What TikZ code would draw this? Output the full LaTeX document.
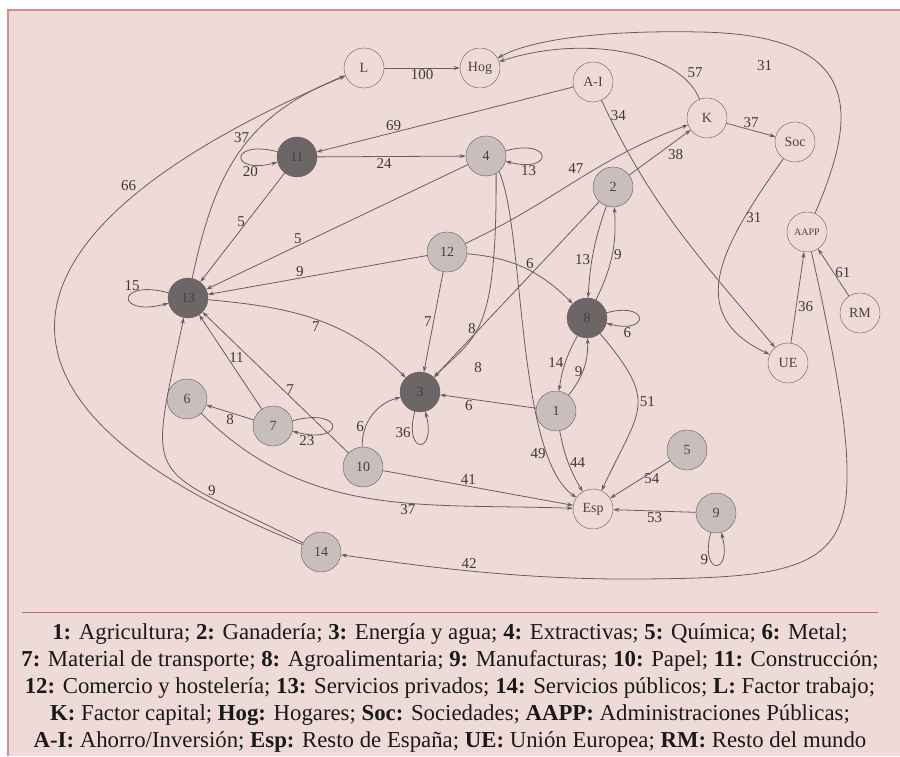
\documentclass[tikz,border=0pt]{standalone}
\usepackage{fontspec}
\setmainfont{Liberation Serif}
\newfontfamily\legfont{Liberation Serif}
\usepackage{tikz}
\usetikzlibrary{arrows.meta}
\definecolor{bgpink}{RGB}{238,219,215}
\definecolor{framered}{RGB}{214,140,140}
\definecolor{rulered}{RGB}{196,100,100}
\definecolor{ink}{RGB}{104,94,94}
\definecolor{sectfill}{RGB}{200,190,190}
\definecolor{keyfill}{RGB}{108,102,102}
\tikzset{>={Stealth[length=6pt,width=4pt]}}
\tikzset{
  acct/.style={circle, draw=ink, minimum size=40pt, inner sep=0pt, text=ink!70!black,
    font=\fontsize{14}{14}\selectfont},
  sect/.style={acct, fill=sectfill},
  keysect/.style={acct, fill=keyfill, text=black!75},
  flow/.style={->, draw=ink, line width=0.8pt},
  num/.style={font=\fontsize{15}{15}\selectfont, text=ink!60!black, inner sep=1.5pt},
  legend/.style={font=\legfont\fontsize{22.8}{22.8}\selectfont, text=black!90}
}

\begin{document}
\begin{tikzpicture}[x=1pt, y=1pt]

		\useasboundingbox (0,0) rectangle (900,756);
		\fill[bgpink] (8,0) rectangle (900,746);
		\draw[framered, line width=1.2pt] (8,0) -- (8,746) -- (900,746);

		% cuentas
		\node[acct] (L) at (364,688) {L};
		\node[acct] (Hog) at (480,688) {Hog};
		\node[acct] (AI) at (593,674) {A-I};
		\node[acct] (K) at (707,638) {K};
		\node[acct] (Soc) at (795,614) {Soc};
		\node[acct, font=\fontsize{10}{10}\selectfont] (AAPP) at (807,524) {AAPP};
		\node[acct] (RM) at (860,443) {RM};
		\node[acct] (UE) at (788,393) {UE};
		\node[acct] (Esp) at (593,247) {Esp};

		% sectores
		\node[keysect] (n11) at (297,599) {11};
		\node[sect] (n4) at (486,600) {4};
		\node[sect] (n2) at (613,569) {2};
		\node[sect] (n12) at (447,504) {12};
		\node[keysect] (n13) at (188,458) {13};
		\node[keysect] (n8) at (587,438) {8};
		\node[keysect] (n3) at (420,364) {3};
		\node[sect] (n1) at (556,345) {1};
		\node[sect] (n6) at (187,357) {6};
		\node[sect] (n7) at (273,330) {7};
		\node[sect] (n10) at (363,289) {10};
		\node[sect] (n14) at (321,204) {14};
		\node[sect] (n5) at (687,306) {5};
		\node[sect] (n9) at (716,243) {9};

		% flujos de rentas
		\draw[flow] (L) -- node[num, below] {100} (Hog);
		\draw[flow] (n14) to[out=158, in=203, looseness=2.1] node[num, pos=0.75, above left] {66} (L);
		\draw[flow] (n13) to[out=78, in=202, looseness=1.1] node[num, pos=0.58, left] {37} (L);
		\draw[flow] (K) .. controls (680,706) and (580,721) .. node[num, pos=0.15, above right] {57} (Hog);
		\draw[flow] (AAPP) .. controls (855,636) and (870,721) .. node[num, pos=0.85, below=20pt] {31} (700,724)
			.. controls (600,726) and (530,716) .. (Hog);
		\draw[flow] (K) -- node[num, above] {37} (Soc);
		\draw[flow] (Soc) to[out=235, in=155, looseness=1.3] node[num, pos=0.25, right] {31} (UE);
		\draw[flow] (AI) to[out=-65, in=130] node[num, pos=0.05, right] {34} (UE);
		\draw[flow] (UE) -- node[num, pos=0.4, right] {36} (AAPP);
		\draw[flow] (RM) -- node[num, right] {61} (AAPP);
		\draw[flow] (AAPP) .. controls (840,376) and (848,316) .. (847,276)
			.. controls (846,186) and (790,178) .. (640,177)
			.. controls (520,176) and (420,190) .. node[num, pos=0.52, above] {42} (n14);

		% 11, 4, 13
		\draw[flow] (n11) to[out=165, in=195, min distance=50pt] node[num, pos=0.75, below] {20} (n11);
		\draw[flow] (n11) -- node[num, pos=0.45, below] {24} (n4);
		\draw[flow] (AI) -- node[num, pos=0.7, above] {69} (n11);
		\draw[flow] (n11) -- node[num, pos=0.45, left] {5} (n13);
		\draw[flow] (n4) -- node[num, pos=0.65, above] {5} (n13);
		\draw[flow] (n4) to[out=15, in=-15, min distance=50pt] node[num, pos=0.8, below] {13} (n4);
		\draw[flow] (n13) to[out=165, in=195, min distance=55pt] node[num, pos=0.35, above] {15} (n13);
		\draw[flow] (n12) -- node[num, pos=0.58, above] {9} (n13);
		\draw[flow] (n13) to[out=-5, in=135] node[num, pos=0.5, below] {7} (n3);
		\draw[flow] (n7) -- node[num, pos=0.55, right] {11} (n13);
		\draw[flow] (n10) -- node[num, pos=0.4, above] {7} (n13);
		\draw[flow] (n14) to[out=153, in=258, looseness=1.8] node[num, pos=0.25, above] {9} (n13);

		% 6, 7, 10, 3
		\draw[flow] (n7) -- node[num, below] {8} (n6);
		\draw[flow] (n7) to[out=15, in=-15, min distance=55pt] node[num, pos=0.9, below] {23} (n7);
		\draw[flow] (n6) to[out=-45, in=178] node[num, pos=0.6, below] {37} (Esp);
		\draw[flow] (n10) to[out=92, in=195] node[num, pos=0.3, left] {6} (n3);
		\draw[flow] (n10) -- node[num, pos=0.45, above] {41} (Esp);
		\draw[flow] (n3) to[out=-105, in=-75, min distance=45pt] node[num, pos=0.2, left] {36} (n3);
		\draw[flow] (n1) -- node[num, pos=0.7, below] {6} (n3);
		\draw[flow] (n12) -- node[num, left] {7} (n3);
		\draw[flow] (n4.-60) .. controls (497,416) and (475,421) .. node[num, pos=0.55, left] {8} (n3);
		\draw[flow] (n2) -- node[num, pos=0.92, xshift=31pt, yshift=-4pt] {8} (n3);
		\draw[flow] (n4.-50) .. controls (525,526) and (516,300) .. node[num, pos=0.8, left] {49} (Esp);

		% 12, 2, 8, 1
		\draw[flow] (n12) to[out=-5, in=135] node[num, pos=0.55, above] {6} (n8);
		\draw[flow] (n12) to[out=25, in=200] node[num, pos=0.55, above left] {47} (K);
		\draw[flow] (n2) -- node[num, pos=0.6, below right] {38} (K);
		\draw[flow] (n2) to[bend right=8] node[num, pos=0.6, left] {13} (n8);
		\draw[flow] (n8) to[bend right=15] node[num, pos=0.5, right] {9} (n2);
		\draw[flow] (n8) to[out=15, in=-15, min distance=45pt] node[num, pos=0.8, below] {6} (n8);
		\draw[flow] (n8) to[bend right=10] node[num, pos=0.5, left] {14} (n1);
		\draw[flow] (n1) to[bend right=20] node[num, pos=0.45, left, inner sep=0pt] {9} (n8);
		\draw[flow] (n8) to[out=-50, in=65, looseness=1.5] node[num, pos=0.45, right] {51} (Esp);
		\draw[flow] (n1) to[bend right=10] node[num, pos=0.5, right] {44} (Esp);

		% 5, 9
		\draw[flow] (n5) -- node[num, pos=0.3, below] {54} (Esp);
		\draw[flow] (n9) -- node[num, below] {53} (Esp);
		\draw[flow] (n9) to[out=-105, in=-75, min distance=45pt] node[num, pos=0.3, left] {9} (n9);

		% leyenda
		\draw[rulered, line width=1pt] (22,144) -- (878,144);
		\node[legend] (ley1) at (450,122) {\textbf{1:} Agricultura; \textbf{2:} Ganadería; \textbf{3:} Energía y agua; \textbf{4:} Extractivas; \textbf{5:} Química; \textbf{6:} Metal;};
		\node[legend] (ley2) at (450,95) {\textbf{7:} Material de transporte; \textbf{8:} Agroalimentaria; \textbf{9:} Manufacturas; \textbf{10:} Papel; \textbf{11:} Construcción;};
		\node[legend] (ley3) at (450,68) {\textbf{12:} Comercio y hostelería; \textbf{13:} Servicios privados; \textbf{14:} Servicios públicos; \textbf{L:} Factor trabajo;};
		\node[legend] (ley4) at (450,41) {\textbf{K:} Factor capital; \textbf{Hog:} Hogares; \textbf{Soc:} Sociedades; \textbf{AAPP:} Administraciones Públicas;};
		\node[legend] (ley5) at (450,14) {\textbf{A-I:} Ahorro/Inversión; \textbf{Esp:} Resto de España; \textbf{UE:} Unión Europea; \textbf{RM:} Resto del mundo};

\end{tikzpicture}
\end{document}
